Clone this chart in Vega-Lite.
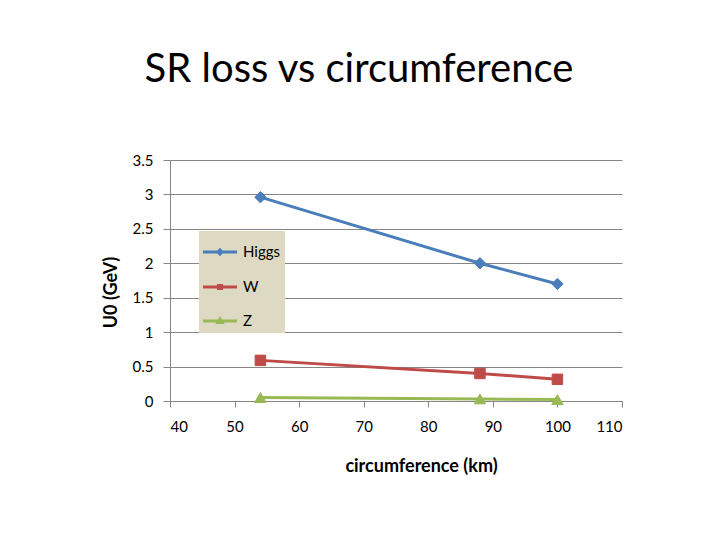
{
  "$schema": "https://vega.github.io/schema/vega-lite/v6.json",
  "width": 452,
  "height": 241,
  "autosize": {"type": "none"},
  "padding": {"left": 170, "top": 160, "right": 98, "bottom": 139},
  "background": "white",
  "title": {
    "text": "SR loss vs circumference",
    "font": "Lato",
    "fontSize": 40,
    "fontWeight": "normal",
    "color": "#000000",
    "anchor": "middle",
    "frame": "group",
    "baseline": "alphabetic",
    "offset": 31,
    "dx": -37
  },
  "config": {
    "font": "Lato",
    "view": {"stroke": null},
    "axis": {"labelFont": "Lato", "titleFont": "Lato", "labelColor": "#000000", "titleColor": "#000000"}
  },
  "data": {
    "values": [
      {"series": "Higgs", "circumference": 54, "U0": 2.96},
      {"series": "Higgs", "circumference": 88, "U0": 2.0},
      {"series": "Higgs", "circumference": 100, "U0": 1.7},
      {"series": "W", "circumference": 54, "U0": 0.59},
      {"series": "W", "circumference": 88, "U0": 0.4},
      {"series": "W", "circumference": 100, "U0": 0.315},
      {"series": "Z", "circumference": 54, "U0": 0.05},
      {"series": "Z", "circumference": 88, "U0": 0.03},
      {"series": "Z", "circumference": 100, "U0": 0.02}
    ]
  },
  "encoding": {
    "x": {
      "field": "circumference",
      "type": "quantitative",
      "scale": {"domain": [40, 110], "nice": false},
      "axis": {
        "title": "circumference (km)",
        "values": [40, 50, 60, 70, 80, 90, 100, 110],
        "grid": false,
        "domainColor": "#868686",
        "tickColor": "#868686",
        "tickSize": 6,
        "labelFontSize": 15,
        "labelPadding": 12,
        "titleFontSize": 18,
        "titleFontWeight": "bold",
        "titlePadding": 23,
        "titleX": 251
      }
    },
    "y": {
      "field": "U0",
      "type": "quantitative",
      "scale": {"domain": [0, 3.5], "nice": false},
      "axis": {
        "title": "U0 (GeV)",
        "format": "~g",
        "values": [0, 0.5, 1, 1.5, 2, 2.5, 3, 3.5],
        "grid": true,
        "gridColor": "#868686",
        "gridWidth": 1,
        "domainColor": "#868686",
        "tickColor": "#868686",
        "tickSize": 7,
        "labelFontSize": 15,
        "labelPadding": 10,
        "titleFontSize": 18,
        "titleFontWeight": "bold",
        "titlePadding": 12,
        "titleY": 132
      }
    }
  },
  "layer": [
    {
      "transform": [{"filter": "datum.series === 'Higgs'"}],
      "mark": {"type": "line", "strokeWidth": 3, "color": "#4A7EBB"},
      "encoding": {}
    },
    {
      "transform": [{"filter": "datum.series === 'W'"}],
      "mark": {"type": "line", "strokeWidth": 3, "color": "#BE4B48"},
      "encoding": {}
    },
    {
      "transform": [{"filter": "datum.series === 'Z'"}],
      "mark": {"type": "line", "strokeWidth": 3, "color": "#98B954"},
      "encoding": {}
    },
    {
      "transform": [{"filter": "datum.series === 'Higgs'"}],
      "mark": {"type": "point", "filled": true, "opacity": 1, "shape": "diamond", "size": 130, "strokeWidth": 1, "stroke": "#4A7EBB", "fill": "#4A7EBB"}
    },
    {
      "transform": [{"filter": "datum.series === 'W'"}],
      "mark": {"type": "point", "filled": true, "opacity": 1, "shape": "square", "size": 110, "strokeWidth": 1, "stroke": "#BE4B48", "fill": "#BE4B48"}
    },
    {
      "transform": [{"filter": "datum.series === 'Z'"}],
      "mark": {"type": "point", "filled": true, "opacity": 1, "shape": "triangle-up", "size": 130, "strokeWidth": 1, "stroke": "#98B954", "fill": "#98B954"}
    },
    {
      "transform": [{"filter": "false"}],
      "mark": {"type": "point", "filled": false, "strokeWidth": 3, "opacity": 1},
      "encoding": {
        "color": {
          "field": "series",
          "type": "nominal",
          "scale": {"domain": ["Higgs", "W", "Z"], "range": ["#4A7EBB", "#BE4B48", "#98B954"]},
          "legend": {
            "title": null,
            "orient": "none",
            "legendX": 29,
            "legendY": 71,
            "fillColor": "#DDD9C3",
            "padding": 4,
            "rowPadding": 9,
            "symbolSize": 961,
            "symbolStrokeWidth": 3,
            "labelFont": "Lato",
            "labelFontSize": 15,
            "labelColor": "#000000",
            "labelOffset": 6
          }
        },
        "shape": {
          "field": "series",
          "type": "nominal",
          "scale": {
            "domain": ["Higgs", "W", "Z"],
            "range": [
              "M-1.1,0H1.1M0,-0.13L0.13,0L0,0.13L-0.13,0Z",
              "M-1.1,0H1.1M-0.1,-0.1H0.1V0.1H-0.1Z",
              "M-1.1,0H1.1M0,-0.13L0.13,0.09H-0.13Z"
            ]
          },
          "legend": {
            "title": null,
            "orient": "none",
            "legendX": 29,
            "legendY": 71,
            "fillColor": "#DDD9C3",
            "padding": 4,
            "rowPadding": 9,
            "symbolSize": 961,
            "symbolStrokeWidth": 3,
            "labelFont": "Lato",
            "labelFontSize": 15,
            "labelColor": "#000000",
            "labelOffset": 6
          }
        }
      }
    }
  ]
}
